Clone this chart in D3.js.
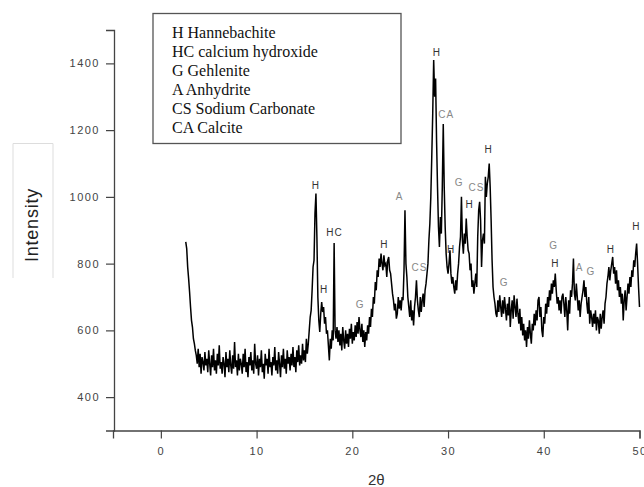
<!DOCTYPE html>
<html><head><meta charset="utf-8">
<script src="https://cdn.jsdelivr.net/npm/d3@7"></script>
<style>body{margin:0;background:#fff} svg{display:block}</style>
</head><body>
<svg id="c" width="644" height="487"></svg>
<script>
// ---- data ----
const thetaStart = 2.6, thetaStep = 0.1;   // 2θ sampling grid
const intensity = [
 865,845,790,755,715,670,630,610,575,560,
 540,525,500,545,490,530,470,520,505,480,
 535,495,515,475,540,500,465,525,490,545,
 480,510,470,530,495,555,485,505,470,520,
 500,460,535,490,515,475,540,495,470,525,
 485,565,490,510,465,530,480,515,500,470,
 530,490,545,475,505,460,520,495,535,480,
 510,470,560,500,485,525,465,515,490,540,
 475,500,455,530,495,515,470,545,490,505,
 465,520,495,550,480,510,470,535,500,460,
 525,490,545,485,515,470,540,500,520,480,
 530,495,550,490,520,475,540,505,555,495,
 525,500,560,510,540,505,575,530,560,600,
 640,660,720,790,810,950,1010,880,700,630,
 595,650,685,655,670,620,640,590,600,555,
 510,575,545,600,570,862,600,575,610,565,
 600,555,590,540,610,570,545,600,560,590,
 550,605,575,620,560,595,570,615,580,625,
 590,640,600,580,620,565,600,550,595,570,
 615,590,640,610,665,640,700,680,745,720,
 780,760,815,790,830,800,780,825,795,800,
 760,810,820,780,770,740,710,690,660,680,
 635,650,700,665,690,660,700,690,780,960,
 800,760,700,670,640,690,630,660,615,670,
 700,750,690,660,640,700,655,690,710,670,
 720,740,770,800,870,920,1000,1120,1250,1410,
 1300,1355,1170,1030,910,850,940,890,1030,1218,
 1030,910,830,790,770,800,840,770,740,760,
 730,710,750,720,770,800,850,880,1000,870,
 830,890,860,935,880,840,830,780,800,730,
 750,710,740,770,730,880,960,985,930,790,
 870,890,860,1060,1000,1040,1060,1100,1030,930,
 810,730,700,680,650,640,690,655,705,670,
 640,690,650,700,665,630,680,645,700,610,
 660,690,635,705,670,640,695,650,620,665,
 600,640,585,620,570,600,550,610,575,630,
 590,560,620,600,650,615,660,630,690,700,
 640,670,600,580,640,620,680,650,700,670,
 720,690,740,710,750,730,770,720,680,700,
 660,690,650,700,710,680,640,700,660,600,
 690,650,720,700,740,815,710,690,740,700,
 660,690,640,680,700,720,750,700,730,680,
 650,700,620,660,640,610,650,620,660,600,
 640,630,590,650,605,640,660,620,680,700,
 740,760,790,750,780,800,820,770,790,740,
 780,720,750,700,730,680,710,630,690,720,
 660,700,740,710,760,730,780,760,810,790,
 830,860,800,730,670
];
const xTicks = [0,10,20,30,40,50];
const xMinor = [5,15,25,35,45];
const yTicks = [400,600,800,1000,1200,1400];
const yMinor = [500,700,900,1100,1300];
const xLabel = "2θ";
const yLabel = "Intensity";
const legendLines = ["H Hannebachite","HC calcium hydroxide","G Gehlenite","A Anhydrite","CS Sodium Carbonate","CA Calcite"];
const peakText  = ["H","HC","H","G","A","H","CS","H","CA","H","G","CS","H","H","G","G","H","A","G","H","H"];
const peakTheta = [16.20,18.14,17.06,20.83,24.93,23.36,27.02,28.84,29.81,34.23,31.17,32.98,32.25,30.33,35.87,41.02,41.20,43.74,44.93,47.02,49.67];
const peakInt   = [1035,893,722,678,1000,858,788,1432,1247,1142,1043,1029,978,842,743,854,800,788,777,844,913];

// ---- drawing ----
const svg = d3.select("#c");
const x = d3.scaleLinear().domain([-5,50]).range([113,639.5]);
const y = d3.scaleLinear().domain([300,1500]).range([430.5,30]);
const pts = intensity.map((v,i)=>[thetaStart + i*thetaStep, v]);

const sans = "'Liberation Sans', Arial, sans-serif";
const axisCol = "#444";

// x axis
const gx = svg.append("g").attr("transform",`translate(0,${y(300)})`);
gx.call(d3.axisBottom(x).tickValues(xMinor).tickSize(4).tickFormat(""));
gx.call(d3.axisBottom(x).tickValues(xTicks).tickSize(8).tickPadding(9).tickFormat(d3.format("d")));
gx.select(".domain").attr("stroke",axisCol).attr("stroke-width",1.3);
gx.selectAll(".tick line").attr("stroke",axisCol).attr("stroke-width",1.2);
gx.selectAll("text").attr("fill","#444").style("font-family",sans).style("font-size","11px").style("letter-spacing","1.5px");

// y axis
const gy = svg.append("g").attr("transform",`translate(${x(-5)+1},0)`);
gy.call(d3.axisLeft(y).tickValues(yMinor).tickSize(5).tickFormat(""));
gy.call(d3.axisLeft(y).tickValues(yTicks).tickSize(8).tickPadding(6).tickFormat(d3.format("d")));
gy.select(".domain").attr("stroke",axisCol).attr("stroke-width",1.3);
gy.selectAll(".tick line").attr("stroke",axisCol).attr("stroke-width",1.2);
gy.selectAll("text").attr("fill","#444").style("font-family",sans).style("font-size","11px").style("letter-spacing","1.5px");
svg.selectAll(".domain").attr("fill","none");

// pattern
svg.append("path").datum(pts)
  .attr("d", d3.line().x(d=>x(d[0])).y(d=>y(d[1])))
  .attr("fill","none").attr("stroke","#000").attr("stroke-width",1.5).attr("stroke-linejoin","miter");

// peak labels
svg.append("g").selectAll("text").data(peakText).join("text")
  .attr("x",(d,i)=>x(peakTheta[i])).attr("y",(d,i)=>y(peakInt[i]))
  .attr("dy","0.36em").attr("text-anchor","middle")
  .style("font-family",sans).style("font-size","10px").style("letter-spacing","1px")
  .attr("fill",d=> (d==="H"||d==="HC") ? "#333" : "#888")
  .text(d=>d);

// legend box
const lg = svg.append("g");
lg.append("rect").attr("x",153).attr("y",13.5).attr("width",248).attr("height",130)
  .attr("fill","#fff").attr("stroke","#555").attr("stroke-width",1.3);
lg.selectAll("text").data(legendLines).join("text")
  .attr("x",172).attr("y",(d,i)=>38+i*19)
  .style("font-family","'Liberation Serif','Times New Roman',serif").style("font-size","16px")
  .attr("fill","#111").text(d=>d);

// y label with its light frame
svg.append("path").attr("d","M13,278V143.5H53V278").attr("fill","none").attr("stroke","#ddd").attr("stroke-width",1);
svg.append("text").attr("transform","translate(38,225) rotate(-90)").attr("text-anchor","middle")
  .style("font-family",sans).style("font-size","18px").style("letter-spacing","0.8px")
  .attr("fill","#222").text(yLabel);

// x label
svg.append("text").attr("x",x(22.5)).attr("y",485).attr("text-anchor","middle")
  .style("font-family",sans).style("font-size","15px").attr("fill","#333").text(xLabel);
</script>
</body></html>
